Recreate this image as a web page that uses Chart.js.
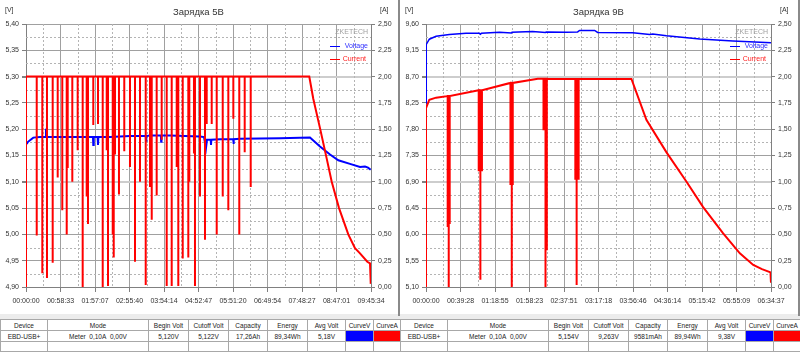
<!DOCTYPE html>
<html>
<head>
<meta charset="utf-8">
<script src="https://cdn.jsdelivr.net/npm/chart.js@4.4.1/dist/chart.umd.min.js"></script>
<style>
  body { margin: 0; width: 800px; height: 352px; background: #ececec; overflow: hidden; position: relative; font-family: 'Liberation Sans', Arial, sans-serif; }
  .panel { position: absolute; top: 0; width: 398px; height: 314px; background: #fff; }
  .sep { position: absolute; top: 0; width: 2px; height: 316px; background: #8a8a8a; }
  table { position: absolute; top: 319px; border-collapse: collapse; table-layout: fixed; background: #fff; font-size: 6.5px; color: #222; }
  td { border: 1px solid #a8a8a8; text-align: center; padding: 0; white-space: nowrap; overflow: hidden; }
  tr.h td { height: 10px; }
  tr.d td { height: 10px; }
  tr.e td { height: 9px; }
</style>
</head>
<body>
<div class="panel" style="left:0"><canvas id="chart5" width="398" height="314"></canvas></div>
<div class="sep" style="left:398px"></div>
<div class="panel" style="left:400px"><canvas id="chart9" width="398" height="314"></canvas></div>
<div class="sep" style="left:798px"></div>

<table id="table5" style="left:0;width:400px"></table>
<table id="table9" style="left:400px;width:400px"></table>

<script>
// ---- data: "Зарядка 5В" (time in minutes) ----
const timeLabels5 = ['00:00:00','00:58:33','01:57:07','02:55:40','03:54:14','04:52:47','05:51:20','06:49:54','07:48:27','08:47:01','09:45:34']
const totalMin5 = 585.57
const voltTicks5 = [4.90,4.95,5.00,5.05,5.10,5.15,5.20,5.25,5.30,5.35,5.40]

const voltTime5 = [1.2,3.4,6.8,12.4,23.8,33.1,33.9,34.8,57.7,91.7,113.7,114.2,115,121.6,122.2,122.8,142.6,176.5,203.2,203.7,204.3,210.5,228.9,229.4,230,244.4,295.3,302.1,305.5,307.2,313.5,314,314.6,329.3,351.7,352.2,352.8,363.2,431.1,482,499,516,530.1,549.9,566.9,575.4,580.5,585]
const volt5     = [5.172,5.176,5.179,5.184,5.185,5.185,5.201,5.185,5.185,5.185,5.185,5.170,5.185,5.185,5.170,5.185,5.185,5.187,5.187,5.178,5.187,5.188,5.188,5.176,5.188,5.188,5.186,5.185,5.164,5.180,5.180,5.170,5.180,5.181,5.181,5.172,5.181,5.182,5.183,5.184,5.167,5.152,5.141,5.134,5.128,5.129,5.127,5.123]

const curTime5 = [0,0,480.8,487.6,499,510.4,518.9,531.3,547,558.4,566.9,579.3,583.9,584.8,585.5]
const cur5     = [0,2.0,2.0,1.79,1.51,1.22,1.0,0.75,0.5,0.37,0.32,0.24,0.225,0.22,0.03]

const dipTime5 = [18.2,27.7,35.6,45.3,53.8,61.6,69.1,70.8,78.6,87.7,96.2,103,105.2,114.2,122.2,130.2,137,139.2,147.2,148.9,151.1,157.8,166.8,176.5,185,193.5,203.2,210.5,213.4,221.8,230.3,238.8,247.3,255.8,258.5,266,275.5,277.2,285.1,286.8,295.3,303.8,306.7,315.2,323.7,333.9,343.4,351.9,362,371.2,381.4]
const dipLow5  = [0.49,0.13,0.085,0.23,1.04,0.73,0.50,1.13,1.0,1.30,0.0,0.86,0.60,1.54,1.55,0.0,1.30,0.01,0.5,0.28,1.26,0.88,1.29,1.14,0.24,1.0,0.02,0.95,0.64,0.87,1.40,0.01,0.01,1.14,0.01,0.27,0.28,1.0,1.27,0.01,0.86,0.45,1.55,1.55,0.5,0.86,0.73,1.6,0.5,1.28,0.95]
const dipTop5  = 2.0

// ---- data: "Зарядка 9В" ----
const timeLabels9 = ['00:00:00','00:39:28','01:18:55','01:58:23','02:37:51','03:17:18','03:56:46','04:36:14','05:15:42','05:55:09','06:34:37']
const totalMin9 = 394.62
const voltTicks9 = [5.10,5.55,6.00,6.45,6.90,7.35,7.80,8.25,8.70,9.15,9.60]

const voltTime9 = [0,0.3,3.8,11.5,26.7,45.8,61.1,62.2,63.3,84,97.8,98.4,121.8,136.7,137.4,160.5,173.4,175.7,192.9,196.3,236.4,255.9,259.4,275.1,313.2,351.1,394.6]
const volt9     = [8.25,9.25,9.34,9.39,9.42,9.44,9.44,9.425,9.44,9.46,9.445,9.46,9.47,9.455,9.465,9.46,9.465,9.49,9.49,9.455,9.45,9.42,9.43,9.40,9.345,9.31,9.28]

const curTime9 = [0,0,3.8,11.5,24.8,61.1,99.3,127.9,164.2,235,252.1,275.1,298,317,339.9,359,374.3,384.3,394,394.6]
const cur9     = [0,1.70,1.78,1.80,1.815,1.87,1.94,1.98,1.977,1.977,1.59,1.28,1.0,0.76,0.51,0.32,0.21,0.17,0.14,0.04]

const dipTime9 = [24.8,26,27.1,60.3,62.2,64,96.6,98.1,99.2,134.4,136.7,138.2,170.8,172.3,174.6]
const dipLow9  = [0.57,0.0,0.6,1.10,0.07,1.10,0.97,0.0,0.97,1.49,0.0,0.35,1.02,0.02,1.02]
const dipTop9  = [1.815,1.815,1.815,1.87,1.87,1.87,1.94,1.94,1.94,1.98,1.98,1.98,1.977,1.977,1.977]

const ampTicks = [0,0.25,0.5,0.75,1.0,1.25,1.5,1.75,2.0,2.25,2.5]

// ---- table rows ----
const tableHeader = ['Device','Mode','Begin Volt','Cutoff Volt','Capacity','Energy','Avg Volt','CurveV','CurveA']
const tableRow5 = ['EBD-USB+','Meter  0,10A  0,00V','5,120V','5,122V','17,26Ah','89,34Wh','5,18V','','']
const tableRow9 = ['EBD-USB+','Meter  0,10A  0,00V','5,154V','9,263V','9581mAh','89,94Wh','9,38V','','']
const colWidths = [47,101,40,40,39,40,38,28,27]

const FONT = "'Liberation Sans', Arial, sans-serif"

function buildPoints(times, values) {
    return times.map((t, i) => ({ x: t, y: values[i] }))
}

// current trace = base curve plus short vertical drop-outs
function buildCurrent(baseT, baseV, dipT, dipLow, dipTop) {
    let groups = baseT.map((t, i) => ({ x: t, pts: [{ x: t, y: baseV[i] }] }))
    dipT.forEach((t, i) => {
        let top = Array.isArray(dipTop) ? dipTop[i] : dipTop
        groups.push({ x: t, pts: [{ x: t, y: top }, { x: t, y: dipLow[i] }, { x: t, y: top }] })
    })
    groups.sort((a, b) => a.x - b.x)
    let out = []
    groups.forEach(g => out.push(...g.pts))
    return out
}

function comma(v) {
    return v.toFixed(2).replace('.', ',')
}

const minorGrid = {
    id: 'minorGrid',
    beforeDatasetsDraw(chart) {
        const { ctx, chartArea: a, scales } = chart
        ctx.save()
        ctx.strokeStyle = '#b4b4b4'
        ctx.lineWidth = 1
        ctx.setLineDash([2, 2])
        const xt = scales.x.ticks
        for (let i = 0; i < xt.length - 1; i++) {
            const px = Math.round(scales.x.getPixelForValue((xt[i].value + xt[i + 1].value) / 2)) + 0.5
            ctx.beginPath(); ctx.moveTo(px, a.top); ctx.lineTo(px, a.bottom); ctx.stroke()
        }
        const yt = scales.y.ticks
        for (let i = 0; i < yt.length - 1; i++) {
            const py = Math.round(scales.y.getPixelForValue((yt[i].value + yt[i + 1].value) / 2)) + 0.5
            ctx.beginPath(); ctx.moveTo(a.left, py); ctx.lineTo(a.right, py); ctx.stroke()
        }
        ctx.restore()
    }
}

const overlay = {
    id: 'overlay',
    afterDatasetsDraw(chart, args, opts) {
        const { ctx, chartArea: a } = chart
        ctx.save()
        ctx.textBaseline = 'middle'
        ctx.fillStyle = '#333'
        ctx.font = '9.5px ' + FONT
        ctx.textAlign = 'center'
        ctx.fillText(opts.title, (a.left + a.right) / 2, 12)
        ctx.font = '7px ' + FONT
        ctx.textAlign = 'left'
        ctx.fillText('[V]', 5, 10)
        ctx.fillText('[A]', a.right + 9, 10)
        ctx.textAlign = 'right'
        ctx.fillStyle = '#a0a0a0'
        ctx.fillText('ZKETECH', a.right - 3, 32)
        ctx.fillStyle = '#3030ff'
        ctx.fillText('Voltage', a.right - 3, 46.5)
        ctx.fillStyle = '#ff2020'
        ctx.fillText('Current', a.right - 5, 59)
        ctx.lineWidth = 1
        ctx.strokeStyle = '#0000ff'
        ctx.beginPath(); ctx.moveTo(a.right - 41, 46.5); ctx.lineTo(a.right - 31, 46.5); ctx.stroke()
        ctx.strokeStyle = '#ff0000'
        ctx.beginPath(); ctx.moveTo(a.right - 41, 59.5); ctx.lineTo(a.right - 31, 59.5); ctx.stroke()
        ctx.restore()
    }
}

function makeChart(id, title, voltData, curData, timeLabels, total, voltTicks, voltWidth) {
    const tickFont = { family: FONT, size: 7 }
    new Chart(document.getElementById(id), {
        type: 'line',
        data: {
            datasets: [
                { data: curData, borderColor: '#ff0000', borderWidth: 2, pointRadius: 0, yAxisID: 'y1', order: 0 },
                { data: voltData, borderColor: '#0000ff', borderWidth: voltWidth, pointRadius: 0, yAxisID: 'y', order: 1 }
            ]
        },
        options: {
            responsive: false,
            animation: false,
            layout: { padding: { top: 24, left: 0, right: 0, bottom: 0 } },
            plugins: { legend: { display: false }, tooltip: { enabled: false }, overlay: { title: title } },
            scales: {
                x: {
                    type: 'linear', min: 0, max: total,
                    afterBuildTicks: s => { s.ticks = timeLabels.map((l, i) => ({ value: total * i / (timeLabels.length - 1) })) },
                    afterFit: s => { s.height = 27 },
                    ticks: { callback: (v, i) => timeLabels[i], autoSkip: false, maxRotation: 0, font: tickFont, color: '#333', padding: 5 },
                    grid: { color: '#a0a0a0', tickColor: '#808080', tickLength: 5 },
                    border: { color: '#808080' }
                },
                y: {
                    position: 'left', min: voltTicks[0], max: voltTicks[voltTicks.length - 1],
                    afterBuildTicks: s => { s.ticks = voltTicks.map(v => ({ value: v })) },
                    afterFit: s => { s.width = 26 },
                    ticks: { callback: v => comma(v), font: tickFont, color: '#333', padding: 3 },
                    grid: {
                        color: c => (c.index === 4 || c.index === 8) ? '#cdcdcd' : '#a0a0a0',
                        lineWidth: c => (c.index === 4 || c.index === 8) ? 2 : 1,
                        tickColor: '#808080', tickLength: 4
                    },
                    border: { color: '#808080' }
                },
                y1: {
                    position: 'right', min: 0, max: 2.5,
                    afterBuildTicks: s => { s.ticks = ampTicks.map(v => ({ value: v })) },
                    afterFit: s => { s.width = 27 },
                    ticks: { callback: v => comma(v), font: tickFont, color: '#333', padding: 3 },
                    grid: { drawOnChartArea: false, tickColor: '#808080', tickLength: 4 },
                    border: { color: '#808080' }
                }
            }
        },
        plugins: [minorGrid, overlay]
    })
}

function fillTable(id, row) {
    const table = document.getElementById(id)
    let html = '<colgroup>' + colWidths.map(w => '<col style="width:' + w + 'px">').join('') + '</colgroup>'
    html += '<tr class="h">' + tableHeader.map(h => '<td>' + h + '</td>').join('') + '</tr>'
    html += '<tr class="d">' + row.map((c, i) => {
        if (i === 7) return '<td style="background:#0000ff"></td>'
        if (i === 8) return '<td style="background:#ff0000"></td>'
        return '<td>' + c.replace(/ /g, '&nbsp;') + '</td>'
    }).join('') + '</tr>'
    html += '<tr class="e">' + colWidths.map(() => '<td></td>').join('') + '</tr>'
    table.innerHTML = html
}

makeChart('chart5', 'Зарядка 5В', buildPoints(voltTime5, volt5),
    buildCurrent(curTime5, cur5, dipTime5, dipLow5, dipTop5), timeLabels5, totalMin5, voltTicks5, 2)
makeChart('chart9', 'Зарядка 9В', buildPoints(voltTime9, volt9),
    buildCurrent(curTime9, cur9, dipTime9, dipLow9, dipTop9), timeLabels9, totalMin9, voltTicks9, 1.5)

fillTable('table5', tableRow5)
fillTable('table9', tableRow9)
</script>
</body>
</html>
